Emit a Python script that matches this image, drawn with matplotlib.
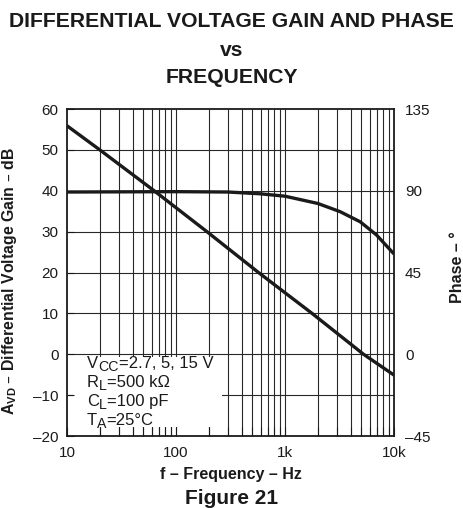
# Differential voltage gain and phase vs frequency (Figure 21)

import numpy as np
import matplotlib.pyplot as plt
from matplotlib.patches import Rectangle

plt.rcParams['font.family'] = ['Liberation Sans', 'DejaVu Sans']
plt.rcParams['mathtext.default'] = 'regular'

# gain curve
gain_freq = [10, 20, 63, 192, 571, 1770, 5250, 10000]
gain_db = [55.9, 50.0, 40.0, 30.0, 20.0, 10.0, 0.0, -5.1]

# phase curve (right axis, degrees)
phase_freq = [10, 100, 300, 600, 1000, 2000, 3200, 4900, 6900, 10000]
phase_deg = [89.3, 89.5, 89.3, 88.3, 87.0, 83.0, 78.5, 72.9, 65.7, 55.2]

gain_ticks = [-20, -10, 0, 10, 20, 30, 40, 50, 60]
phase_ticks = [-45, 0, 45, 90, 135]
freq_ticks = [10, 100, 1000, 10000]
freq_labels = ['10', '100', '1k', '10k']
# test conditions: (text, subscript?) pieces per line
cond_lines = [
    [('V', False), ('CC', True), ('=2.7, 5, 15 V', False)],
    [('R', False), ('L', True), ('=500 k\u03a9', False)],
    [('C', False), ('L', True), ('=100 pF', False)],
    [('T', False), ('A', True), ('=25\u00b0C', False)],
]

W, H = 463, 508
fig = plt.figure(figsize=(W/100, H/100), dpi=100)
ax = fig.add_axes([67/W, 1-436/H, 327/W, 327/H])
ax.set_xscale('log')
ax.set_xlim(10, 10000)
ax.set_ylim(-20, 60)

# grid drawn by hand so the condition box can sit over it
minor = [m * 10**d for d in (1, 2, 3) for m in range(2, 10)]
ax.vlines(minor + [100, 1000], -20, 60, colors='#282828', lw=0.8, zorder=1)
ax.hlines(gain_ticks[1:-1], 10, 10000, colors='#282828', lw=0.8, zorder=1)

ax.add_patch(Rectangle((0.019, 0.028), 0.455, 0.213, transform=ax.transAxes,
                       facecolor='white', edgecolor='none', zorder=2))

ax.plot(gain_freq, gain_db, color='#1a1a1a', lw=2.4, zorder=4,
        solid_capstyle='butt')

ax.set_axisbelow(False)
ax.set_yticks(gain_ticks)
ax.set_yticklabels([str(v).replace('-', '\u2013') for v in gain_ticks])
ax.set_xticks(freq_ticks)
ax.set_xticklabels(freq_labels)
ax.set_xticks(minor, minor=True)
ax.set_xticklabels([], minor=True)
ax.tick_params(axis='y', which='both', direction='in', length=5, width=0.8,
               labelsize=11, pad=6, colors='#1a1a1a')
ax.tick_params(axis='x', which='both', direction='in', length=6.5, width=0.8,
               labelsize=11, pad=7.5, colors='#1a1a1a')
for s in ax.spines.values():
    s.set_linewidth(1.3)
    s.set_color('#1a1a1a')

ax2 = ax.twinx()
ax2.set_ylim(-45, 135)
ax2.set_yticks(phase_ticks)
ax2.set_yticklabels([str(v).replace('-', '\u2013') for v in phase_ticks])
ax2.tick_params(axis='y', direction='in', length=0, labelsize=11, pad=8,
                colors='#1a1a1a')
ax2.plot(phase_freq, phase_deg, color='#1a1a1a', lw=2.4, zorder=4,
         solid_capstyle='butt')
for s in ax2.spines.values():
    s.set_visible(False)

tc = '#1a1a1a'

# condition block, pieces placed one after another
renderer = fig.canvas.get_renderer()
for i, parts in enumerate(cond_lines):
    x = 87
    base = 368 + i * 19
    for s, sub in parts:
        yb = base + 3 if sub else base
        t = fig.text(x / W, 1 - yb / H, s, fontsize=10.2 if sub else 12,
                     ha='left', va='baseline', color=tc, zorder=5)
        x += t.get_window_extent(renderer).width

fig.text(231.5/W, 1-26.7/H, 'DIFFERENTIAL VOLTAGE GAIN AND PHASE',
         ha='center', va='baseline', fontsize=15.2, fontweight='bold', color=tc)
fig.text(231.5/W, 1-56/H, 'vs', ha='center', va='baseline',
         fontsize=15.2, fontweight='bold', color=tc)
fig.text(231.5/W, 1-83/H, 'FREQUENCY', ha='center', va='baseline',
         fontsize=15.2, fontweight='bold', color=tc)

fig.text(10/W, 1-281/H, 'A$_{VD}$ \u2013 Differential Voltage Gain \u2013 dB',
         rotation=90, ha='center', va='center', fontsize=11.4, fontweight='bold',
         color=tc)
fig.text(457/W, 1-267/H, 'Phase \u2013 \u00b0', rotation=90, ha='center',
         va='center', fontsize=11.5, fontweight='bold', color=tc)
fig.text(230.5/W, 1-475/H, 'f \u2013 Frequency \u2013 Hz', ha='center',
         va='center', fontsize=11.5, fontweight='bold', color=tc)
fig.text(232/W, 1-499/H, 'Figure 21', ha='center', va='center',
         fontsize=15, fontweight='bold', color=tc)

fig.savefig('out.png', dpi=100)
